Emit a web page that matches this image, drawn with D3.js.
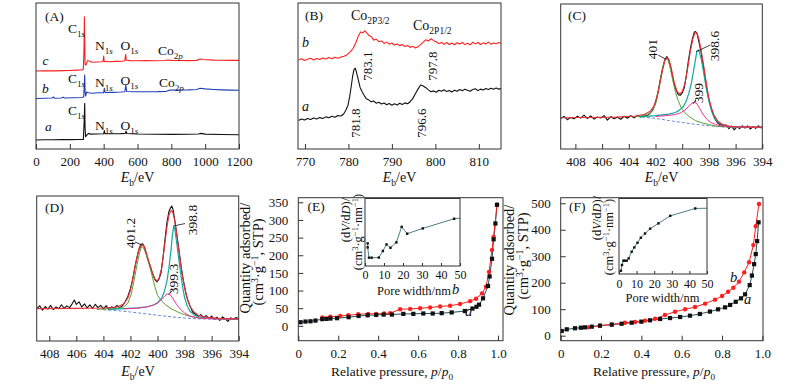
<!DOCTYPE html>
<html><head><meta charset="utf-8">
<script src="https://cdn.jsdelivr.net/npm/d3@7"></script>
<style>body{margin:0;background:#fff}svg{display:block}svg text{font-family:"Liberation Serif","DejaVu Serif",serif !important}</style>
</head><body><svg id="c" width="800" height="386"></svg>
<script>
// ---------------- DATA ----------------
// (A) XPS survey spectra: [binding energy eV, intensity a.u.]
const surveyA = [[0,6.2],[50,6.3],[100,6.3],[150,6.4],[200,6.4],[250,6.5],[280,6.6],[285,20],[288,31.3],[290,15],[293,8.4],[300,9.5],[310,10.7],[320,10.2],[360,10.3],[400,10.4],[404,12.6],[408,10.4],[450,10.4],[500,10.5],[528,10.7],[532,12.3],[537,10.6],[600,10.3],[700,10.1],[800,10.0],[900,10.1],[960,10.3],[975,10.7],[1000,10.2],[1100,9.9],[1200,9.8]];
const surveyB = [[0,34.6],[50,34.8],[95,34.9],[102,35.6],[110,34.8],[150,34.9],[160,35.5],[170,34.9],[220,35.1],[270,35.3],[282,35.6],[286,45],[288,50.7],[290,40],[293,36.3],[300,39],[310,38.5],[330,38.2],[370,38.5],[400,38.6],[404,41.6],[408,38.7],[450,38.8],[500,39.0],[525,39.2],[531,43.8],[536,39.4],[580,39.2],[650,39.2],[720,39.3],[770,39.5],[790,40.3],[850,40.4],[900,40.5],[950,40.8],[970,41.6],[1000,41.2],[1050,40.8],[1100,40.5],[1150,40.3],[1200,40.2]];
const surveyC = [[0,53.4],[40,53.5],[80,53.6],[120,53.5],[160,53.7],[200,53.8],[240,54.0],[270,54.1],[280,54.6],[284,70],[286,90.6],[288,75],[290,58],[295,57.5],[305,60.5],[315,60.3],[330,59.4],[360,59.6],[390,59.8],[397,60.2],[400,63.7],[403,60.0],[430,59.8],[470,60.0],[510,60.1],[525,60.4],[530,64.8],[534,60.8],[560,60.5],[600,60.4],[650,60.5],[700,60.4],[760,60.6],[780,61.0],[800,60.7],[850,60.6],[900,60.5],[950,60.7],[970,61.6],[990,61.3],[1050,60.9],[1100,60.8],[1150,60.7],[1200,60.7]];

// (B) Co2p spectra
const co2pB = [[768.5,61.0],[769.2,61.8],[769.9,60.6],[770.6,61.5],[771.3,62.2],[772.0,61.0],[772.7,62.0],[773.4,61.3],[774.1,62.4],[774.8,61.6],[775.5,62.6],[776.2,61.8],[776.9,62.9],[777.6,62.2],[778.3,63.0],[779.0,63.5],[779.7,64.6],[780.4,66.5],[781.1,69.0],[781.8,73.5],[782.3,77.5],[782.8,80.2],[783.3,79.6],[783.8,81.0],[784.3,79.2],[784.8,77.5],[785.3,76.9],[785.8,74.6],[786.4,75.2],[787.0,73.5],[787.6,74.0],[788.2,72.3],[788.8,73.2],[789.4,71.8],[790.0,72.6],[790.6,71.2],[791.2,72.0],[791.8,70.8],[792.4,71.5],[793.0,70.2],[793.6,70.9],[794.2,69.6],[794.8,70.3],[795.4,69.2],[796.0,70.0],[796.6,71.5],[797.2,73.2],[797.8,74.8],[798.4,74.0],[799.0,75.5],[799.6,74.2],[800.2,73.5],[800.8,72.2],[801.4,73.0],[802.0,71.8],[802.6,72.9],[803.2,71.6],[803.8,72.6],[804.4,71.4],[805.0,72.8],[805.6,71.9],[806.2,73.0],[806.8,71.5],[807.4,72.5],[808.0,71.3],[808.6,73.1],[809.2,72.0],[809.8,72.9],[810.4,71.6],[811.0,72.7],[811.6,72.0],[812.2,73.2],[812.8,71.8],[813.4,72.6],[814.0,72.1],[814.6,72.9],[815.1,72.2]];
const co2pA = [[768.5,19.6],[769.2,20.5],[769.9,19.8],[770.6,20.9],[771.3,20.2],[772.0,21.3],[772.7,20.6],[773.4,21.5],[774.1,20.9],[774.8,22.0],[775.5,21.4],[776.2,22.4],[776.9,21.8],[777.6,23.0],[778.3,22.6],[778.9,24.0],[779.4,26.5],[779.9,30.0],[780.3,36.0],[780.7,44.0],[781.0,50.5],[781.3,54.5],[781.6,55.3],[781.9,52.0],[782.3,47.0],[782.7,42.0],[783.1,39.5],[783.6,36.8],[784.1,34.5],[784.6,33.8],[785.2,32.3],[785.8,32.9],[786.4,31.4],[787.0,32.0],[787.6,30.8],[788.2,31.5],[788.8,30.3],[789.4,31.2],[790.0,30.0],[790.6,31.0],[791.2,30.2],[791.8,31.3],[792.4,30.5],[793.0,31.6],[793.6,31.0],[794.2,32.4],[794.8,34.5],[795.4,37.8],[796.0,41.0],[796.6,43.8],[797.2,43.2],[797.8,42.0],[798.4,40.5],[799.0,39.2],[799.6,39.8],[800.2,38.9],[800.8,40.2],[801.4,39.5],[802.0,40.6],[802.6,39.3],[803.2,40.1],[803.8,39.0],[804.4,40.3],[805.0,39.6],[805.6,40.8],[806.2,39.9],[806.8,41.0],[807.4,40.2],[808.0,39.5],[808.6,40.7],[809.2,41.3],[809.8,40.0],[810.4,41.0],[811.0,40.4],[811.6,41.5],[812.2,40.8],[812.8,41.6],[813.4,40.9],[814.0,41.8],[814.6,41.0],[815.1,41.4]];

// (C) N1s spectrum and fit
const n1sC_raw = [[409.1,21.0],[408.85,22.5],[408.6,20.2],[408.35,21.8],[408.1,20.8],[407.85,22.6],[407.6,21.3],[407.35,23.4],[407.1,21.0],[406.85,22.8],[406.6,20.6],[406.35,22.1],[406.1,21.4],[405.85,23.0],[405.6,19.9],[405.35,22.4],[405.1,20.9],[404.85,21.9],[404.6,20.5],[404.35,22.6],[404.1,21.2],[403.85,22.9],[403.6,21.5],[403.35,23.2],[403.1,22.0],[402.85,23.6],[402.6,23.0],[402.4,24.8],[402.2,27.0],[402.0,31.5],[401.8,40.0],[401.6,50.0],[401.45,56.5],[401.3,61.5],[401.15,63.7],[401.05,62.0],[400.9,58.0],[400.75,51.0],[400.6,45.0],[400.45,40.5],[400.3,37.5],[400.15,37.0],[400.0,38.6],[399.85,42.0],[399.7,50.0],[399.55,60.0],[399.4,68.5],[399.25,75.5],[399.1,80.5],[399.0,81.0],[398.9,80.0],[398.75,74.0],[398.6,67.5],[398.45,59.0],[398.3,50.0],[398.15,41.0],[398.0,34.0],[397.85,29.0],[397.7,24.5],[397.5,20.0],[397.3,17.5],[397.1,16.8],[396.9,15.6],[396.7,16.5],[396.5,14.0],[396.3,15.8],[396.1,13.2],[395.9,15.4],[395.7,14.1],[395.5,16.0],[395.3,14.5],[395.1,15.9],[394.9,13.8],[394.7,15.5],[394.5,14.2],[394.3,16.0],[394.1,14.6],[394.0,15.4]];
const n1sC_fit = [[409.1,21.5],[407,21.7],[405,22.0],[403.5,22.8],[402.8,24],[402.4,26],[402.1,30],[401.8,39],[401.5,53],[401.3,61],[401.15,63],[401.0,62],[400.8,55],[400.6,46],[400.4,40],[400.2,38],[400.0,39.5],[399.8,45],[399.6,55],[399.4,67],[399.2,76],[399.05,80],[398.9,80],[398.75,76],[398.6,69],[398.4,58],[398.2,46],[398.0,35],[397.8,28],[397.6,23],[397.3,19],[397.0,17],[396.5,15.8],[396,15.3],[395,15.1],[394,15.0]];
const n1sC_p401 = [[403.5,22.2],[402.6,23.5],[402.2,26.5],[401.9,34],[401.7,44],[401.5,54],[401.35,60.5],[401.2,62.5],[401.05,61],[400.9,56],[400.7,47],[400.5,39],[400.3,33.5],[400.1,29],[399.8,25],[399.5,22.5],[399.0,19.5],[398.5,18],[398.0,16.8],[397.4,15.6],[396.5,15.2],[394,15.0]];
const n1sC_p3986 = [[403.2,22.2],[402,23.0],[401,24.0],[400.5,25.2],[400.2,26.8],[399.9,29.5],[399.7,33],[399.5,38.5],[399.3,46],[399.15,54],[399.0,62],[398.9,67.5],[398.8,68.3],[398.7,66.5],[398.55,61],[398.4,53],[398.2,42],[398.0,33],[397.8,26],[397.6,21.5],[397.3,18.3],[397.0,16.8],[396.5,15.6],[395.5,15.1],[394,15.0]];
const n1sC_p399 = [[402,22.4],[401,23.2],[400.5,23.8],[400.1,25.0],[399.8,26.8],[399.5,29.5],[399.3,31.5],[399.1,32.4],[398.9,31.2],[398.7,28.2],[398.5,24.8],[398.2,21.0],[397.9,18.5],[397.5,16.8],[397.0,15.8],[396,15.2],[394,15.0]];
const n1sC_bg = [[403,22.0],[402,21.2],[401,19.6],[400,18.3],[399,17.0],[398,16.0],[397,15.3],[396,15.0],[394,14.9]];

// (D) N1s spectrum and fit
const n1sD_raw = [[408.9,22.5],[408.7,24.3],[408.5,21.2],[408.3,23.8],[408.1,22.0],[407.9,24.6],[407.7,21.6],[407.5,23.5],[407.3,22.2],[407.1,25.0],[406.9,22.6],[406.7,24.2],[406.5,23.0],[406.3,25.8],[406.15,28.3],[406.0,25.2],[405.8,27.0],[405.6,23.4],[405.4,25.6],[405.2,22.8],[405.0,24.9],[404.8,22.4],[404.6,25.3],[404.4,23.0],[404.2,24.6],[404.0,22.2],[403.8,24.4],[403.6,21.8],[403.4,23.6],[403.2,22.5],[403.0,24.5],[402.8,22.9],[402.6,24.2],[402.4,26.9],[402.2,30.5],[402.0,36.1],[401.85,42.0],[401.7,49.5],[401.55,56.5],[401.4,62.5],[401.25,66.5],[401.1,67.1],[400.95,64.5],[400.8,59.0],[400.65,54.5],[400.5,50.5],[400.35,46.0],[400.2,42.5],[400.05,40.7],[399.9,42.5],[399.75,46.5],[399.6,57.0],[399.45,70.0],[399.3,82.0],[399.15,89.5],[399.05,91.5],[398.95,93.1],[398.85,90.5],[398.75,85.0],[398.6,75.2],[398.45,65.0],[398.3,54.5],[398.15,45.0],[398.0,37.5],[397.85,31.0],[397.7,26.5],[397.55,23.0],[397.4,19.8],[397.2,18.6],[397.0,17.0],[396.8,18.2],[396.6,16.2],[396.4,17.5],[396.2,15.6],[396.0,17.2],[395.8,15.0],[395.6,16.4],[395.4,14.2],[395.2,16.6],[395.0,15.3],[394.8,13.5],[394.6,16.0],[394.4,14.8],[394.2,16.2],[394.0,15.4]];
const n1sD_fit = [[408.9,22.3],[406,22.5],[404,22.8],[403,23.5],[402.5,25.5],[402.2,29.5],[402,35],[401.8,44],[401.6,54],[401.4,62],[401.2,66],[401.1,66.5],[401.0,65.5],[400.8,60],[400.6,53.5],[400.4,47.5],[400.2,43],[400.05,41.5],[399.9,43],[399.7,50],[399.5,64],[399.3,79],[399.15,87],[399.0,90],[398.9,89.5],[398.75,84],[398.6,75],[398.4,61],[398.2,47],[398.0,36.5],[397.8,29],[397.6,24],[397.3,20],[397.0,17.8],[396.5,16.5],[395.5,15.6],[394,15.2]];
const n1sD_p4012 = [[404.5,21.8],[403,22.5],[402.5,23.5],[402.2,26],[401.95,32],[401.75,41],[401.55,51],[401.35,60],[401.2,65],[401.05,64.5],[400.85,60],[400.6,52],[400.4,45],[400.2,37.5],[400.0,31.5],[399.7,27.5],[399.4,25],[399.0,22.3],[398.5,20],[398.0,18],[397.5,16.8],[396.9,15.9],[395.5,15.4],[394,15.2]];
const n1sD_p3988 = [[403.5,21.8],[402.5,22.3],[401.5,22.9],[400.8,23.6],[400.3,24.8],[400.0,26.3],[399.7,29.5],[399.5,34],[399.3,41.5],[399.15,51],[399.0,63],[398.9,73],[398.8,79.3],[398.7,76],[398.6,69],[398.45,58],[398.3,47.5],[398.15,37.5],[398.0,30],[397.8,24],[397.6,20.5],[397.3,18],[397.0,16.7],[396.5,15.8],[395.5,15.3],[394,15.1]];
const n1sD_p3993 = [[402.5,22.2],[401.5,22.6],[400.8,23.4],[400.3,24.8],[400.0,26.2],[399.7,28.5],[399.45,31.3],[399.25,32.6],[399.05,31.8],[398.85,29],[398.6,25.3],[398.3,21.8],[398.0,19.3],[397.6,17.2],[397.0,15.9],[396,15.3],[394,15.1]];
const n1sD_bg = [[404,21.5],[403,21.0],[402,20.0],[401,18.9],[400,17.8],[399,16.7],[398,15.8],[397,15.3],[396,15.1],[394,15.0]];

// (E) N2 isotherms [p/p0, cm3/g] and pore size distribution [nm, a.u.]
const isoE_a = [[0.011,10.3],[0.036,12.2],[0.061,13],[0.086,15],[0.12,19],[0.141,19.8],[0.161,20.8],[0.194,21.7],[0.252,24.5],[0.302,28],[0.347,30],[0.39,31],[0.427,32],[0.469,32],[0.526,34],[0.576,34],[0.626,35],[0.673,35],[0.718,36],[0.768,38],[0.834,42],[0.872,49],[0.892,54],[0.905,60],[0.925,78],[0.95,113],[0.958,140],[0.97,190],[0.978,245],[0.987,290],[0.995,343]];
const isoE_b = [[0.12,23.6],[0.16,26],[0.21,28],[0.25,30],[0.30,33],[0.35,34],[0.39,34],[0.43,35],[0.46,36],[0.51,47],[0.56,48],[0.61,50],[0.66,52],[0.71,55],[0.76,57],[0.81,62],[0.86,70],[0.89,77],[0.92,92],[0.94,111],[0.955,153],[0.97,215],[0.978,252],[0.995,343]];
const poreE = [[1.4,0.335],[1.4,0.276],[2.1,0.123],[3.5,0.123],[7.3,0.125],[9.4,0.222],[11.3,0.32],[13.4,0.27],[16.5,0.35],[19.3,0.58],[22.2,0.478],[30.4,0.557],[46.9,0.70],[52,0.715]];

// (F)
const isoF_a = [[0.005,17.6],[0.03,24],[0.071,28],[0.10,30],[0.12,31.5],[0.154,34],[0.195,37.8],[0.253,41.5],[0.302,45],[0.352,49],[0.40,52.9],[0.443,58],[0.493,63],[0.542,66.5],[0.592,70.5],[0.641,75.5],[0.69,82],[0.74,91],[0.78,99.5],[0.815,107],[0.84,116],[0.868,128],[0.894,141],[0.914,156],[0.937,191],[0.948,227],[0.959,270],[0.967,308],[0.974,357],[0.981,428]];
const isoF_b = [[0.137,31.5],[0.195,37.8],[0.253,42.8],[0.319,49],[0.369,51.6],[0.418,56.7],[0.468,64],[0.517,78],[0.567,90.6],[0.617,99.5],[0.666,108],[0.716,121],[0.765,136],[0.80,150],[0.83,166],[0.856,181],[0.884,204],[0.91,239],[0.934,277],[0.955,342],[0.967,413],[0.983,497]];
const poreF = [[1.1,0.044],[1.7,0.119],[2.5,0.176],[3.2,0.176],[4.4,0.176],[5.5,0.207],[7.2,0.295],[8.7,0.352],[10.5,0.414],[12.4,0.48],[14.8,0.537],[17.7,0.60],[22.4,0.67],[29.1,0.77],[43.3,0.868],[52,0.872]];

// tick values
const ticksA = [0,200,400,600,800,1000,1200];
const ticksB = [770,780,790,800,810];
const ticksN1s = [408,406,404,402,400,398,396,394];
const ticksP = [0,0.2,0.4,0.6,0.8,1.0];
const ticksEy = [0,50,100,150,200,250,300,350];
const ticksFy = [0,100,200,300,400,500];
const ticksPore = [0,10,20,30,40,50];

// ---------------- DRAWING ----------------
const FONT = 'Liberation Serif, DejaVu Serif, serif';
const svg = d3.select('#c').style('font-family', FONT);
const INK = '#111';
const N=t=>({t}), S=t=>({t,sub:1}), SI=t=>({t,sub:1,it:1}), P=t=>({t,sup:1}), I=t=>({t,it:1});

function rich(t, parts, size){
  let cur=0;
  parts.forEach(p=>{
    const small=p.sub||p.sup;
    const off=p.sub?size*0.28:(p.sup?-size*0.38:0);
    const ts=t.append('tspan').text(p.t).attr('font-size',small?size*0.68:size);
    if(off!==cur) ts.attr('dy',off-cur);
    if(p.it) ts.attr('font-style','italic');
    cur=off;
  });
}
function label(x,y,parts,size,anchor){
  const t=svg.append('text').attr('x',x).attr('y',y).attr('font-size',size).attr('fill',INK);
  if(anchor) t.attr('text-anchor',anchor);
  rich(t,parts,size); return t;
}
function vlabel(cx,cy,parts,size){
  const t=svg.append('text').attr('transform',`translate(${cx+0.35*size},${cy}) rotate(-90)`)
    .attr('text-anchor','middle').attr('font-size',size).attr('fill',INK);
  rich(t,parts,size); return t;
}
let cid=0;
function panel(x0,y0,x1,y1,xdom,ydom){
  const xs=d3.scaleLinear().domain(xdom).range([x0,x1]);
  const ys=d3.scaleLinear().domain(ydom).range([y1,y0]);
  const id='clp'+(cid++);
  svg.append('clipPath').attr('id',id).append('rect').attr('x',x0).attr('y',y0).attr('width',x1-x0).attr('height',y1-y0);
  svg.append('rect').attr('x',x0).attr('y',y0).attr('width',x1-x0).attr('height',y1-y0).attr('fill','#fff');
  const plot=svg.append('g').attr('clip-path',`url(#${id})`);
  return {xs,ys,plot,x0,x1,y0,y1};
}
function frame(p){
  svg.append('rect').attr('x',p.x0).attr('y',p.y0).attr('width',p.x1-p.x0).attr('height',p.y1-p.y0)
    .attr('fill','none').attr('stroke','#333').attr('stroke-width',1);
}
function bottomAxis(p,ticks,fmt,size,pad,len){
  const ax=d3.axisBottom(p.xs).tickValues(ticks).tickSize(-len).tickPadding(pad).tickFormat(fmt);
  const g=svg.append('g').attr('transform',`translate(0,${p.y1})`).call(ax)
    .attr('font-family',null).attr('font-size',size);
  g.select('.domain').remove();
  g.selectAll('line').attr('stroke','#333');
  g.selectAll('text').attr('fill',INK);
}
function leftAxis(p,ticks,size,pad,len){
  const ax=d3.axisLeft(p.ys).tickValues(ticks).tickSize(-len).tickPadding(pad).tickFormat(d3.format('d'));
  const g=svg.append('g').attr('transform',`translate(${p.x0},0)`).call(ax)
    .attr('font-family',null).attr('font-size',size);
  g.select('.domain').remove();
  g.selectAll('line').attr('stroke','#333');
  g.selectAll('text').attr('fill',INK);
}
function line(p,data,color,w,dash){
  const pa=p.plot.append('path').datum(data)
    .attr('d',d3.line().x(d=>p.xs(d[0])).y(d=>p.ys(d[1])))
    .attr('fill','none').attr('stroke',color).attr('stroke-width',w).attr('stroke-linejoin','round');
  if(dash) pa.attr('stroke-dasharray',dash);
}
function leader(p,a,b){
  svg.append('line').attr('x1',p.xs(a[0])).attr('y1',p.ys(a[1])).attr('x2',p.xs(b[0])).attr('y2',p.ys(b[1]))
    .attr('stroke',INK).attr('stroke-width',0.8);
}
function squares(p,data,size,color){
  p.plot.selectAll(null).data(data).enter().append('rect')
    .attr('x',d=>p.xs(d[0])-size/2).attr('y',d=>p.ys(d[1])-size/2).attr('width',size).attr('height',size).attr('fill',color);
}
function circles(p,data,r,color){
  p.plot.selectAll(null).data(data).enter().append('circle')
    .attr('cx',d=>p.xs(d[0])).attr('cy',d=>p.ys(d[1])).attr('r',r).attr('fill',color);
}
const fmtInt=d3.format('d');
const fmtP=d=>d===0?'0':d3.format('.1f')(d);
const EbParts=[I('E'),S('b'),N('/eV')];
const TICK=13;

const RED='#ff1f1f', BLUE='#1f3fb5', BLK='#111';
const FIT_R='#e8303a', FIT_G='#5c9e35', FIT_T='#12a8a0', FIT_M='#f0309a', FIT_B='#6a88d8';

// ---- (A)
{
  const p=panel(36,3,239,149,[0,1200],[0,100]);
  line(p,surveyA,BLK,1.1); line(p,surveyB,BLUE,1.1); line(p,surveyC,RED,1.1);
  frame(p); bottomAxis(p,ticksA,fmtInt,TICK,8,5);
  label(45,21,[N('(A)')],13.5);
  label(68,33,[N('C'),S('1'),SI('s')],13.5); label(95,50,[N('N'),S('1'),SI('s')],13.5);
  label(120.5,50,[N('O'),S('1'),SI('s')],13.5); label(158,55,[N('Co'),S('2'),SI('p')],13.5);
  label(42.5,65,[I('c')],13.5);
  label(68,83,[N('C'),S('1'),SI('s')],13.5); label(95,87,[N('N'),S('1'),SI('s')],13.5);
  label(120.5,85,[N('O'),S('1'),SI('s')],13.5); label(159,87,[N('Co'),S('2'),SI('p')],13.5);
  label(42,93,[I('b')],13.5);
  label(68,115,[N('C'),S('1'),SI('s')],13.5); label(95,130,[N('N'),S('1'),SI('s')],13.5);
  label(120.5,130,[N('O'),S('1'),SI('s')],13.5);
  label(45,131,[I('a')],13.5);
  label(137.5,182,EbParts,14,'middle');
}
// ---- (B)
{
  const p=panel(298,3,501,149,[768.4,815.1],[0,100]);
  line(p,co2pA,BLK,1.1); line(p,co2pB,RED,1.1);
  frame(p); bottomAxis(p,ticksB,fmtInt,TICK,8,5);
  label(305,20,[N('(B)')],13.5);
  label(351,20,[N('Co'),S('2P3/2')],14);
  label(413,30,[N('Co'),S('2P1/2')],14);
  label(302,47,[I('b')],14); label(302,111,[I('a')],14);
  vlabel(367,66,[N('783.1')],13); vlabel(432,66,[N('797.8')],13);
  vlabel(355,123,[N('781.8')],13); vlabel(421.5,123,[N('796.6')],13);
  label(399.5,182,EbParts,14,'middle');
}
// ---- (C)
{
  const p=panel(560.7,4,762.3,149,[409.1,394],[0,100]);
  line(p,n1sC_raw,BLK,1.1);
  line(p,n1sC_bg,FIT_B,1,'3,2');
  line(p,n1sC_p401,FIT_G,1); line(p,n1sC_p3986,FIT_T,1.2); line(p,n1sC_p399,FIT_M,1);
  line(p,n1sC_fit,FIT_R,1.1);
  frame(p); bottomAxis(p,ticksN1s,fmtInt,TICK,8,5);
  label(568,20,[N('(C)')],13.5);
  vlabel(652.7,49,[N('401')],13.5); leader(p,[401.8,64.8],[401.2,61.8]);
  vlabel(714,46,[N('398.6')],13.5); leader(p,[397.9,71.7],[398.95,67.1]);
  vlabel(698,93,[N('399')],13.5); leader(p,[398.97,33.8],[399.2,31]);
  label(661.5,182,EbParts,14,'middle');
}
// ---- (D)
{
  const p=panel(36.7,196,238.7,341,[408.93,394],[0,100]);
  line(p,n1sD_raw,BLK,1.1);
  line(p,n1sD_bg,FIT_B,1,'3,2');
  line(p,n1sD_p4012,FIT_G,1); line(p,n1sD_p3988,FIT_T,1.2); line(p,n1sD_p3993,FIT_M,1);
  line(p,n1sD_fit,FIT_R,1.1);
  frame(p); bottomAxis(p,ticksN1s,fmtInt,TICK,8,5);
  label(45,212,[N('(D)')],13.5);
  vlabel(130,233,[N('401.2')],13.5); leader(p,[401.67,68.3],[401.1,66]);
  vlabel(192,220,[N('398.8')],13.5); leader(p,[397.97,81],[398.83,79.3]);
  vlabel(173,279,[N('399.3')],13.5); leader(p,[398.88,35],[399.2,32.2]);
  label(138,376,EbParts,14,'middle');
}
// ---- (E)
{
  const p=panel(298.3,197.7,503,340.7,[0,1.025],[-42,363]);
  line(p,isoE_a,'#24505f',1); line(p,isoE_b,RED,1);
  circles(p,isoE_b,2.2,RED); squares(p,isoE_a,4.2,BLK);
  frame(p); bottomAxis(p,ticksP,fmtP,TICK,8,5); leftAxis(p,ticksEy,TICK,10,5);
  label(307.5,211,[N('(E)')],13.5);
  label(452,294,[I('b')],14.5); label(465,316,[I('a')],14.5);
  vlabel(244.5,258,[N('Quantity adsorbed/')],14.5);
  vlabel(258,262,[N('(cm'),P('3'),N('·g'),P('−1'),N(', STP)')],14.5);
  label(392,376,[N('Relative pressure, '),I('p'),N('/'),I('p'),S('0')],13.5,'middle');
  // inset
  const q=panel(365,198.5,460,266,[0,50],[0,1]);
  line(q,poreE,'#4d7f86',1); squares(q,poreE,2.4,BLK);
  frame(q); bottomAxis(q,ticksPore,fmtInt,12,4,3);
  vlabel(346,220,[N('(d'),I('V'),N('/d'),I('D'),N(')/')],12.5);
  vlabel(358,232,[N('(cm'),P('3'),N('·g'),P('−1'),N('·nm'),P('−1'),N(')')],12.5);
  label(414,295,[N('Pore width/nm')],12.5,'middle');
}
// ---- (F)
{
  const p=panel(560.7,197.7,763,340.7,[0,1.003],[-19,521]);
  line(p,isoF_a,'#24505f',1); line(p,isoF_b,RED,1);
  circles(p,isoF_b,2.2,RED); squares(p,isoF_a,4.2,BLK);
  frame(p); bottomAxis(p,ticksP,fmtP,TICK,8,5); leftAxis(p,ticksFy,TICK,10,5);
  label(569,211,[N('(F)')],13.5);
  label(730,282,[I('b')],14.5); label(744,304,[I('a')],14.5);
  vlabel(508.5,260,[N('Quantity adsorbed/')],14.5);
  vlabel(523,256,[N('(cm'),P('3'),N('·g'),P('−1'),N(', STP)')],14.5);
  label(654,376,[N('Relative pressure, '),I('p'),N('/'),I('p'),S('0')],13.5,'middle');
  const q=panel(619,198.5,707,274,[0,50],[0,1]);
  line(q,poreF,'#4d7f86',1); squares(q,poreF,2.4,BLK);
  frame(q); bottomAxis(q,ticksPore,fmtInt,12,5.5,3);
  vlabel(597,218,[N('(d'),I('V'),N('/d'),I('D'),N(')/')],12.5);
  vlabel(609,237,[N('(cm'),P('3'),N('·g'),P('−1'),N('·nm'),P('−1'),N(')')],12.5);
  label(662.5,302,[N('Pore width/nm')],12.5,'middle');
}
</script></body></html>
